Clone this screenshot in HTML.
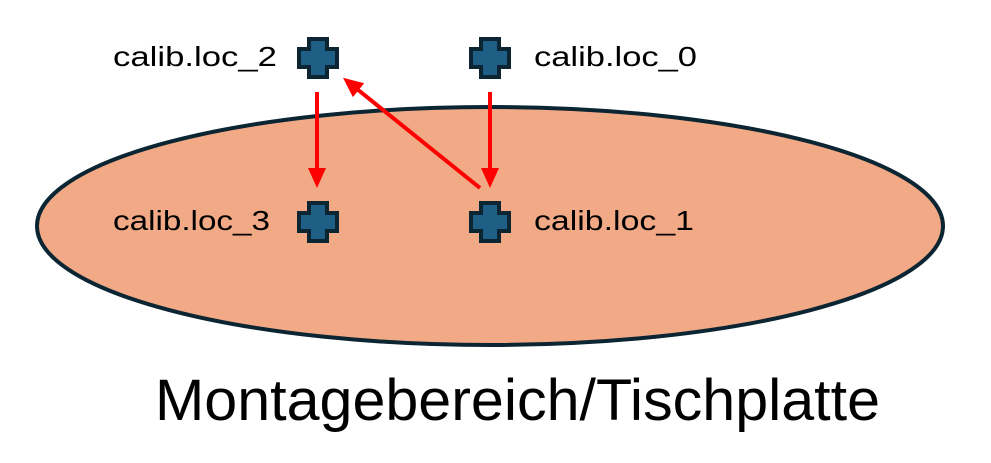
<!DOCTYPE html>
<html><head><meta charset="utf-8"><style>html,body{margin:0;padding:0;background:#fff}svg{display:block}</style></head>
<body>
<svg width="991" height="463" viewBox="0 0 991 463" xmlns="http://www.w3.org/2000/svg">
<defs>
<marker id="ah" markerWidth="20" markerHeight="20" refX="2" refY="10" orient="auto" markerUnits="userSpaceOnUse">
<path d="M0,1 L20,10 L0,19 z" fill="#ff0000"/></marker>
<path id="cr" d="M-9,-19 H9 V-9 H19 V9 H9 V19 H-9 V9 H-19 V-9 H-9 Z" fill="#1f5f85" stroke="#0b2533" stroke-width="4" stroke-linejoin="miter"/>
</defs>
<ellipse cx="490" cy="226" rx="453" ry="119" fill="#f2a985" stroke="#0b2533" stroke-width="4"/>
<use href="#cr" x="318" y="58"/>
<use href="#cr" x="490" y="58"/>
<use href="#cr" x="318" y="222"/>
<use href="#cr" x="490" y="222"/>
<g stroke="#ff0000" stroke-width="4" fill="none">
<line x1="317" y1="92" x2="317" y2="170" marker-end="url(#ah)"/>
<line x1="490" y1="92" x2="490" y2="170" marker-end="url(#ah)"/>
<line x1="480" y1="188" x2="357" y2="89" marker-end="url(#ah)"/>
</g>
<g font-family="Liberation Sans, sans-serif" font-size="28" fill="#000">
<text x="113" y="66" textLength="164" lengthAdjust="spacingAndGlyphs">calib.loc_2</text>
<text x="534" y="66" textLength="163" lengthAdjust="spacingAndGlyphs">calib.loc_0</text>
<text x="113" y="230" textLength="157" lengthAdjust="spacingAndGlyphs">calib.loc_3</text>
<text x="534" y="230" textLength="160" lengthAdjust="spacingAndGlyphs">calib.loc_1</text>
</g>
<text x="155" y="420" font-family="Liberation Sans, sans-serif" font-size="58" fill="#000" textLength="725" lengthAdjust="spacingAndGlyphs">Montagebereich/Tischplatte</text>
</svg>
</body></html>
